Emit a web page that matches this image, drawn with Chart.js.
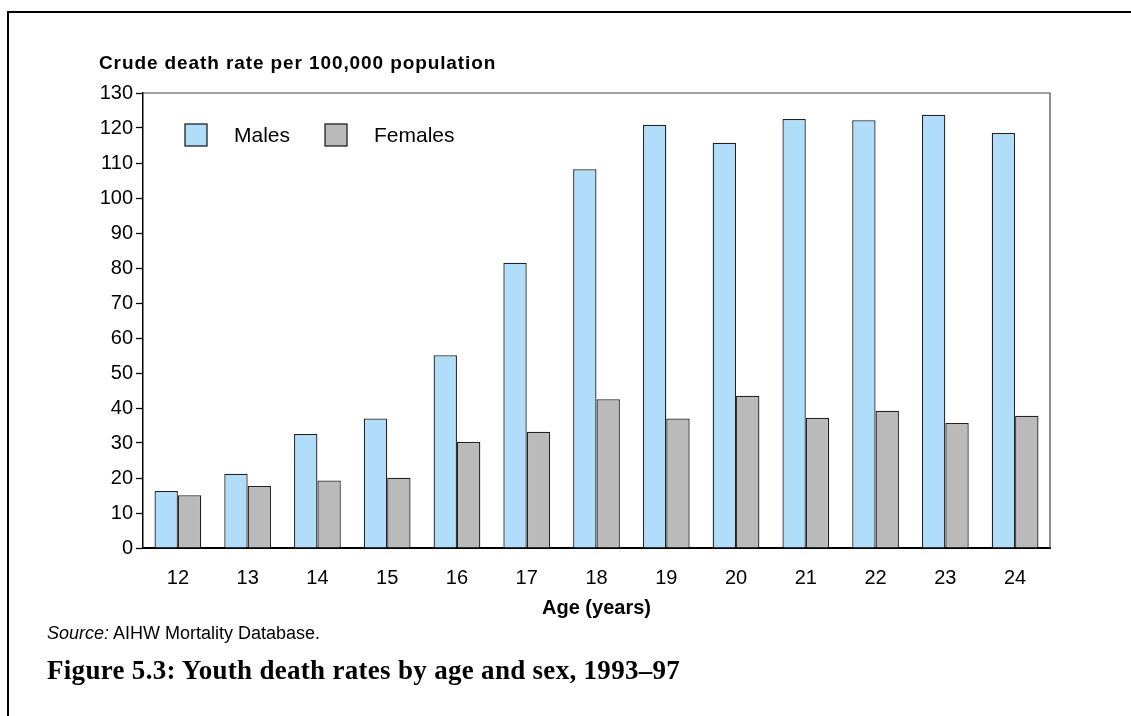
<!DOCTYPE html>
<html>
<head>
<meta charset="utf-8">
<script src="https://cdn.jsdelivr.net/npm/chart.js@4.4.1/dist/chart.umd.min.js"></script>
<style>
  html, body { margin:0; padding:0; background:#fff; }
  body { width:1131px; height:716px; position:relative; overflow:hidden; font-family:"Liberation Sans", Arial, sans-serif; }
  #frame { position:absolute; left:7px; top:11px; width:1200px; height:800px; border-left:2px solid #000; border-top:2px solid #000; }
  #wrap { position:absolute; left:0; top:0; width:1131px; height:716px; }
  #ytitle { position:absolute; left:99px; top:52px; font-weight:bold; font-size:19px; letter-spacing:0.9px; color:#000; white-space:nowrap; }
  #source { position:absolute; left:47px; top:623px; font-size:18px; color:#000; white-space:nowrap; }
  #caption { position:absolute; left:47px; top:655px; font-family:"Liberation Serif", "DejaVu Serif", serif; font-weight:bold; font-size:27px; letter-spacing:0.3px; color:#000; white-space:nowrap; }
</style>
</head>
<body>
<div id="frame"></div>
<div id="wrap"><canvas id="c" width="1131" height="716"></canvas></div>
<div id="ytitle">Crude death rate per 100,000 population</div>
<div id="source"><i>Source:</i> AIHW Mortality Database.</div>
<div id="caption">Figure 5.3: Youth death rates by age and sex, 1993–97</div>
<script>
const ages = ["12","13","14","15","16","17","18","19","20","21","22","23","24"];
const males = [16.3, 21.2, 32.6, 37.0, 55.1, 81.5, 108.2, 120.9, 115.8, 122.6, 122.2, 123.8, 118.6];
const females = [15.1, 17.7, 19.3, 20.1, 30.3, 33.2, 42.5, 37.0, 43.5, 37.2, 39.2, 35.7, 37.8];
const yTicks = [0,10,20,30,40,50,60,70,80,90,100,110,120,130];

const FONT = '"Liberation Sans", Arial, sans-serif';

const boxPlugin = {
  id: 'plotBox',
  afterDatasetsDraw(chart) {
    const a = chart.chartArea, ctx = chart.ctx;
    ctx.save();
    ctx.strokeStyle = '#444';
    ctx.lineWidth = 1.2;
    ctx.beginPath();
    ctx.moveTo(a.left, a.top);
    ctx.lineTo(a.right, a.top);
    ctx.lineTo(a.right, a.bottom);
    ctx.stroke();
    ctx.restore();
  }
};

// Legend drawn inside the plot area (top-left), like the reference
const innerLegend = {
  id: 'innerLegend',
  afterDraw(chart) {
    const a = chart.chartArea, ctx = chart.ctx;
    const box = 22, gapText = 27, gapItem = 35;
    let x = a.left + 42;
    const yMid = a.top + 42;
    ctx.save();
    ctx.font = '21px ' + FONT;
    ctx.textBaseline = 'middle';
    ctx.textAlign = 'left';
    chart.data.datasets.forEach(ds => {
      ctx.fillStyle = ds.backgroundColor;
      ctx.fillRect(x, yMid - box / 2, box, box);
      ctx.strokeStyle = '#222';
      ctx.lineWidth = 1.3;
      ctx.strokeRect(x, yMid - box / 2, box, box);
      const tx = x + box + gapText;
      ctx.fillStyle = '#000';
      ctx.fillText(ds.label, tx, yMid + 1);
      x = tx + ctx.measureText(ds.label).width + gapItem;
    });
    ctx.restore();
  }
};

new Chart(document.getElementById('c'), {
  type: 'bar',
  data: {
    labels: ages,
    datasets: [
      { label: 'Males', data: males, backgroundColor: '#b0ddf9', borderColor: '#222', borderWidth: 1.3, categoryPercentage: 0.67, barPercentage: 1.0 },
      { label: 'Females', data: females, backgroundColor: '#bababa', borderColor: '#222', borderWidth: 1.3, categoryPercentage: 0.67, barPercentage: 1.0 }
    ]
  },
  options: {
    responsive: false,
    animation: false,
    devicePixelRatio: 1,
    layout: { padding: { left: 93, right: 81, top: 93, bottom: 96 } },
    plugins: {
      legend: { display: false },
      tooltip: { enabled: false },
      title: { display: false }
    },
    scales: {
      x: {
        grid: { display: false },
        border: { color: '#000', width: 2 },
        ticks: { color: '#000', padding: 10, font: { family: FONT, size: 20 } },
        title: { display: true, text: 'Age (years)', color: '#000', padding: { top: 3, bottom: 0 }, font: { family: FONT, size: 20, weight: 'bold' } },
        afterFit(s) { s.height = 72; }
      },
      y: {
        min: 0, max: 130,
        afterBuildTicks(s) { s.ticks = yTicks.map(v => ({ value: v })); },
        grid: { display: true, drawOnChartArea: false, tickLength: 7, color: '#000', tickWidth: 1.3 },
        border: { color: '#000', width: 1.5 },
        ticks: { color: '#000', padding: 3, font: { family: FONT, size: 20 } },
        afterFit(s) { s.width = 50; }
      }
    }
  },
  plugins: [boxPlugin, innerLegend]
});
</script>
</body>
</html>
